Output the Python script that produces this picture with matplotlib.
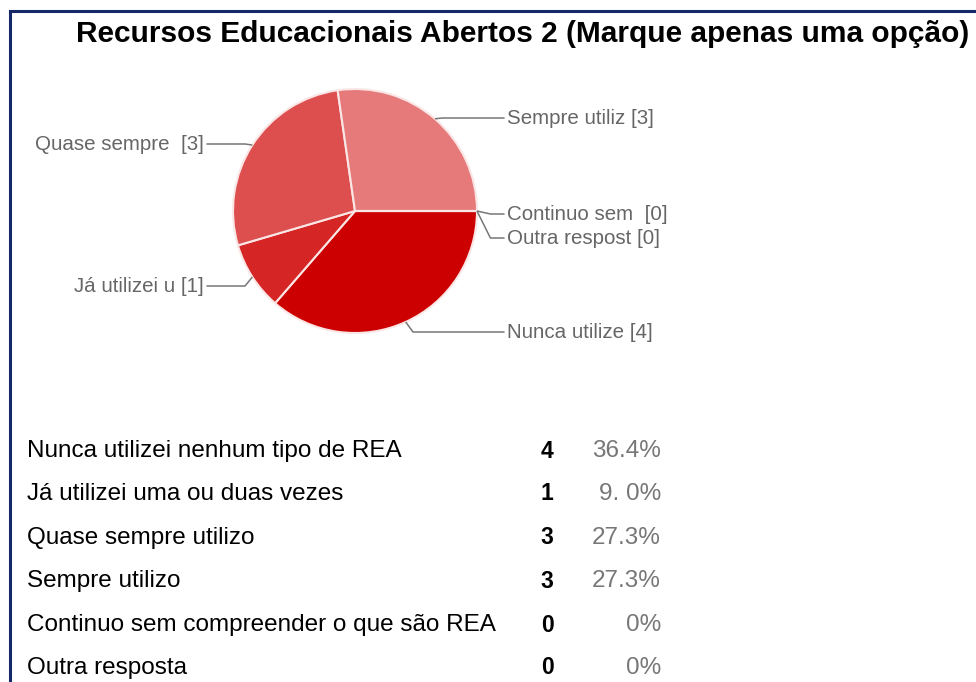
import numpy as np
import matplotlib
matplotlib.use('Agg')
import matplotlib.pyplot as plt
from matplotlib.lines import Line2D

plt.rcParams['font.family'] = ['Liberation Sans', 'DejaVu Sans']

# data
title = 'Recursos Educacionais Abertos 2 (Marque apenas uma opção)'
categories = ['Nunca utilizei nenhum tipo de REA',
              'Já utilizei uma ou duas vezes',
              'Quase sempre utilizo',
              'Sempre utilizo',
              'Continuo sem compreender o que são REA',
              'Outra resposta']
counts = [4, 1, 3, 3, 0, 0]
percent_labels = ['36.4%', '9. 0%', '27.3%', '27.3%', '0%', '0%']
slice_colors = ['#cc0000', '#d52525', '#dd4f4f', '#e67a7a', '#ee9a9a', '#f3b5b5']

W, H = 976, 682
fig = plt.figure(figsize=(W / 100, H / 100), dpi=100)
fig.patch.set_facecolor('white')

# frame lines (top and left)
frame_color = '#14286a'
fig.add_artist(Line2D([10 / W, 1], [1 - 11 / H, 1 - 11 / H], color=frame_color, lw=2.2))
fig.add_artist(Line2D([10 / W, 10 / W], [0, 1 - 11 / H], color=frame_color, lw=2.2))

fig.text(523 / W, 1 - 34 / H, title, ha='center', va='center',
         fontsize=21.5, fontweight='bold', color='black')

# pie
cx, cy, r = 355, 211, 122
ax = fig.add_axes([(cx - r) / W, 1 - (cy + r) / H, 2 * r / W, 2 * r / H])
ax.pie(counts, colors=slice_colors, startangle=0, counterclock=False, radius=1,
       wedgeprops=dict(edgecolor='#fbe6e6', linewidth=1.5))
ax.set_xlim(-1, 1)
ax.set_ylim(-1, 1)
ax.set_aspect('equal')
ax.axis('off')

# label layout (pixel y of each label, side)
label_y_px = [332, 286, 144, 118, 214, 238]
label_side = [1, -1, -1, 1, 1, 1]
text_x_right = 507
text_x_left = 204

total = sum(counts)
start = 0.0
for i, (name, n) in enumerate(zip(categories, counts)):
    span = 360.0 * n / total
    mid = -(start + span / 2)  # clockwise from east
    start += span
    ax_x, ax_y = np.cos(np.radians(mid)), np.sin(np.radians(mid))
    ty = -(label_y_px[i] - cy) / r
    side = label_side[i]
    if side > 0:
        tx = (text_x_right - cx) / r
    else:
        tx = (text_x_left - cx) / r
    elbow_x = ax_x + side * 0.06
    if n == 0:
        elbow_x = ax_x + 0.11
    xs = [ax_x, elbow_x, tx - side * 0.02]
    ys = [ax_y, ty, ty]
    ax.plot(xs, ys, color='#777777', lw=1.1, clip_on=False, solid_capstyle='butt')
    lab = f'{name[:13]} [{n}]'
    ax.text(tx, ty, lab, ha='left' if side > 0 else 'right', va='center',
            fontsize=14.8, color='#666666', clip_on=False)

# table
row_y = [451, 494, 538, 581, 625, 668]
for y, name, n, p in zip(row_y, categories, counts, percent_labels):
    fig.text(27 / W, 1 - y / H, name, ha='left', va='center', fontsize=17.5, color='black')
    fig.text(547 / W, 1 - y / H, str(n), ha='center', va='center', fontsize=16.5,
             fontweight='bold', color='black')
    fig.text(661 / W, 1 - y / H, p, ha='right', va='center', fontsize=17.5, color='#777777')

fig.savefig('out.png', dpi=100, facecolor='white')
